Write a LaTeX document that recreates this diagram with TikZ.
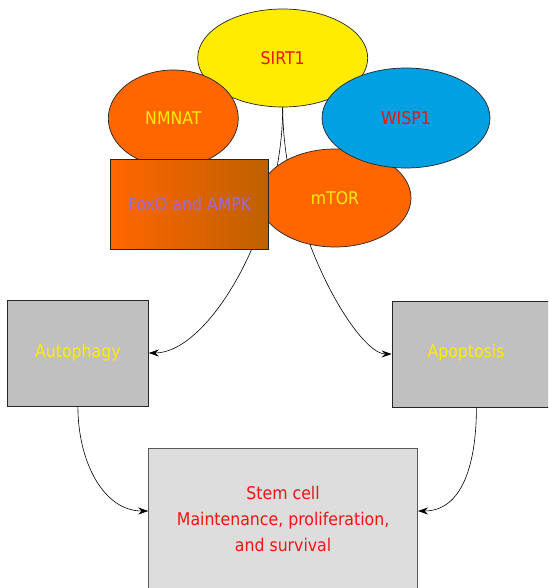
\documentclass[tikz,border=0pt]{standalone}
\usepackage{fontspec}
\setmainfont{DejaVu Sans Condensed}
\usetikzlibrary{shapes.geometric,arrows.meta}

\definecolor{sirtfill}{RGB}{255,236,0}
\definecolor{orangefill}{RGB}{255,102,0}
\definecolor{brownfill}{RGB}{190,96,0}
\definecolor{wispfill}{RGB}{0,160,227}
\definecolor{greyfill}{RGB}{191,192,191}
\definecolor{lightfill}{RGB}{220,221,220}
\definecolor{txtred}{RGB}{240,20,20}
\definecolor{txtyellow}{RGB}{255,236,0}
\definecolor{txtpurple}{RGB}{155,105,225}

\begin{document}
\begin{tikzpicture}[x=1pt, y=-1pt,
  every node/.style={font=\fontsize{17.5}{26}\selectfont},
  blob/.style={ellipse, draw=black!85, line width=0.7pt, inner sep=0pt},
  panel/.style={rectangle, draw=black!85, line width=0.8pt, inner sep=0pt},
  link/.style={-{Stealth[length=10pt,width=7pt,inset=3.5pt]}, line width=0.6pt}]
  \useasboundingbox (0,0) rectangle (548,588);
  \clip (0,0) rectangle (548,588);

  \node[blob, fill=sirtfill, text=txtred, minimum width=170, minimum height=98] (sirt) at (282.7,58) {SIRT1};
  \node[blob, fill=orangefill, text=txtyellow, minimum width=130, minimum height=97] (nmnat) at (173.3,118.5) {NMNAT};

  \node[panel, fill=greyfill, text=txtyellow, minimum width=141, minimum height=106] (auto) at (77.9,353) {Autophagy};
  \node[panel, fill=greyfill, minimum width=190, minimum height=106] (apop) at (487,354) {};
  \node[text=txtyellow] (apoptxt) at (466,353) {Apoptosis};
  \node[panel, draw=black!65, fill=lightfill, text=txtred, align=center, minimum width=269, minimum height=142] (stem) at (283.1,519)
    {Stem cell\\Maintenance, proliferation,\\and survival};

  % pathways out of SIRT1
  \draw[link] (sirt.south) .. controls +(0,120) and +(60,0) .. (auto.east);
  \draw[link] (sirt.south) .. controls +(0,120) and +(-35,0) .. (apop.west);

  \node[blob, fill=orangefill, text=txtyellow, minimum width=152, minimum height=98] (mtor) at (335,198) {mTOR};
  \node[blob, fill=wispfill, text=txtred, minimum width=168, minimum height=100] (wisp) at (406,118) {WISP1};
  \node[panel, left color=orangefill, right color=brownfill, text=txtpurple, minimum width=158, minimum height=89] (foxo) at (189.7,204.4) {FoxO and AMPK};

  \draw[link] (auto.south) .. controls +(0,55) and +(-45,0) .. ([yshift=8pt]stem.west);
  \draw[link] ([xshift=-10.6pt]apop.south) .. controls +(0,55) and +(45,0) .. ([yshift=8pt]stem.east);
\end{tikzpicture}
\end{document}
